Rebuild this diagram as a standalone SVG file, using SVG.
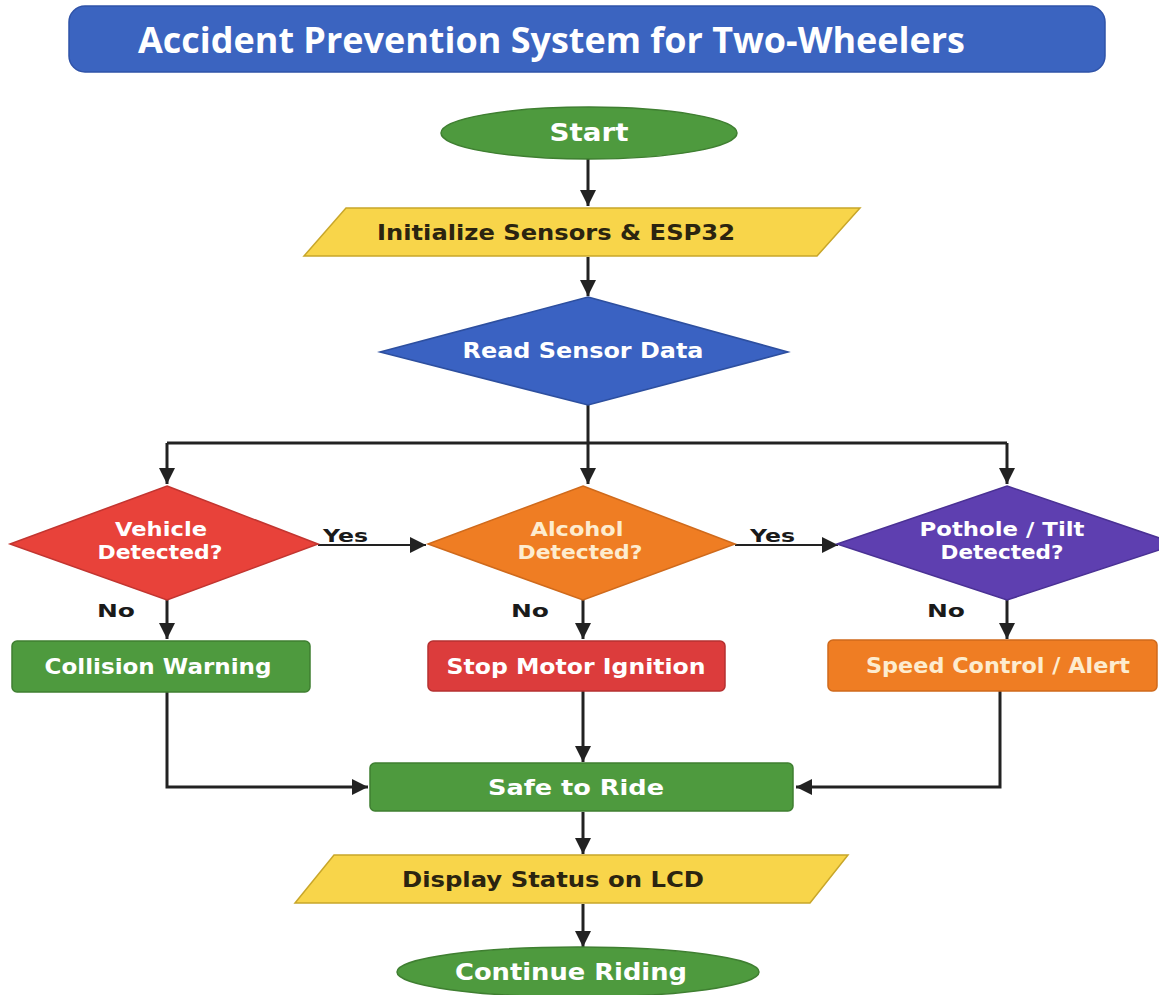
<svg xmlns="http://www.w3.org/2000/svg" width="1159" height="995" viewBox="0 0 1159 995">
<style>
.t{font-family:"DejaVu Sans","Verdana",sans-serif;font-weight:700;text-anchor:middle}
.w{fill:#ffffff}
.d{fill:#2b2410}
.cr{fill:#fdeccf}
.lbl{font-family:"DejaVu Sans","Verdana",sans-serif;font-weight:700;fill:#1a1a1a;font-size:17px}
.c{fill:none;stroke:#222;stroke-width:3}
.c2{fill:none;stroke:#222;stroke-width:2}
</style>
<defs>
<marker id="ah" markerUnits="userSpaceOnUse" markerWidth="18" markerHeight="16" refX="16" refY="8" orient="auto">
<path d="M0,0 L16,8 L0,16 Z" fill="#222"/>
</marker>
</defs>
<rect width="1159" height="995" fill="#ffffff"/>

<g id="title">
<rect x="69" y="6" width="1036" height="66" rx="16" fill="#3b64c0" stroke="#2f53a8" stroke-width="1.5"/>
<text x="138" y="53" font-family="'Open Sans','Liberation Sans',sans-serif" font-weight="700" font-size="36" fill="#ffffff" textLength="827" lengthAdjust="spacingAndGlyphs">Accident Prevention System for Two-Wheelers</text>
</g>

<g id="connectors">
<path class="c" d="M588,159 V206" marker-end="url(#ah)"/>
<path class="c" d="M588,257 V296" marker-end="url(#ah)"/>
<path class="c" d="M588,405 V484" marker-end="url(#ah)"/>
<path class="c" d="M167,443 H1007"/>
<path class="c" d="M167,443 V484" marker-end="url(#ah)"/>
<path class="c" d="M1007,443 V484" marker-end="url(#ah)"/>
<path class="c2" d="M318,545 H426" marker-end="url(#ah)"/>
<path class="c2" d="M735,545 H838" marker-end="url(#ah)"/>
<path class="c" d="M167,600 V639" marker-end="url(#ah)"/>
<path class="c" d="M583,600 V639" marker-end="url(#ah)"/>
<path class="c" d="M1007,600 V639" marker-end="url(#ah)"/>
<path class="c" d="M167,692 V787 H368" marker-end="url(#ah)"/>
<path class="c" d="M583,691 V762" marker-end="url(#ah)"/>
<path class="c" d="M1000,691 V787 H796" marker-end="url(#ah)"/>
<path class="c" d="M583,812 V854" marker-end="url(#ah)"/>
<path class="c" d="M583,904 V947" marker-end="url(#ah)"/>
<text class="lbl" x="323" y="542" textLength="45" lengthAdjust="spacingAndGlyphs">Yes</text>
<text class="lbl" x="750" y="542" textLength="45" lengthAdjust="spacingAndGlyphs">Yes</text>
<text class="lbl" x="97" y="617" textLength="38" lengthAdjust="spacingAndGlyphs">No</text>
<text class="lbl" x="511" y="617" textLength="38" lengthAdjust="spacingAndGlyphs">No</text>
<text class="lbl" x="927" y="617" textLength="38" lengthAdjust="spacingAndGlyphs">No</text>
</g>

<g id="start">
<ellipse cx="589" cy="133" rx="148" ry="26" fill="#4e9a3e" stroke="#3f7f31" stroke-width="1.5"/>
<text class="t w" x="589" y="141" font-size="24" textLength="79" lengthAdjust="spacingAndGlyphs">Start</text>
</g>

<g id="init">
<path d="M346,208 H860 L817,256 H304 Z" fill="#f8d54a" stroke="#c8a62a" stroke-width="1.5"/>
<text class="t d" x="556" y="240" font-size="22" textLength="358" lengthAdjust="spacingAndGlyphs">Initialize Sensors &amp; ESP32</text>
</g>

<g id="read">
<path d="M588,297 L788,352 L588,405 L380,352 Z" fill="#3a62c2" stroke="#2d4f9f" stroke-width="1.5"/>
<text class="t w" x="583" y="358" font-size="22" textLength="241" lengthAdjust="spacingAndGlyphs">Read Sensor Data</text>
</g>

<g id="vehicle">
<path d="M167,486 L318,544 L167,600 L10,544 Z" fill="#e8423a" stroke="#c23530" stroke-width="1.5"/>
<text class="t w" x="161" y="536" font-size="20" textLength="92" lengthAdjust="spacingAndGlyphs">Vehicle</text>
<text class="t w" x="160" y="559" font-size="20" textLength="125" lengthAdjust="spacingAndGlyphs">Detected?</text>
</g>

<g id="alcohol">
<path d="M583,486 L735,544 L583,600 L428,544 Z" fill="#ef7d23" stroke="#cf6a1c" stroke-width="1.5"/>
<text class="t cr" x="577" y="536" font-size="20" textLength="93" lengthAdjust="spacingAndGlyphs">Alcohol</text>
<text class="t cr" x="580" y="559" font-size="20" textLength="125" lengthAdjust="spacingAndGlyphs">Detected?</text>
</g>

<g id="pothole">
<path d="M1007,486 L1177,544 L1007,600 L837,544 Z" fill="#5e3fb0" stroke="#4a3194" stroke-width="1.5"/>
<text class="t w" x="1002" y="536" font-size="20" textLength="165" lengthAdjust="spacingAndGlyphs">Pothole / Tilt</text>
<text class="t w" x="1002" y="559" font-size="20" textLength="123" lengthAdjust="spacingAndGlyphs">Detected?</text>
</g>

<g id="collision">
<rect x="12" y="641" width="298" height="51" rx="5" fill="#4e9a3e" stroke="#3f7f31" stroke-width="1.5"/>
<text class="t w" x="158" y="674" font-size="21" textLength="227" lengthAdjust="spacingAndGlyphs">Collision Warning</text>
</g>

<g id="stopmotor">
<rect x="428" y="641" width="297" height="50" rx="5" fill="#dc3c3c" stroke="#b53030" stroke-width="1.5"/>
<text class="t w" x="576" y="674" font-size="21" textLength="259" lengthAdjust="spacingAndGlyphs">Stop Motor Ignition</text>
</g>

<g id="speed">
<rect x="828" y="640" width="329" height="51" rx="5" fill="#ef7d23" stroke="#cf6a1c" stroke-width="1.5"/>
<text class="t cr" x="998" y="673" font-size="21" textLength="264" lengthAdjust="spacingAndGlyphs">Speed Control / Alert</text>
</g>

<g id="safe">
<rect x="370" y="763" width="423" height="48" rx="5" fill="#4e9a3e" stroke="#3f7f31" stroke-width="1.5"/>
<text class="t w" x="576" y="795" font-size="22" textLength="176" lengthAdjust="spacingAndGlyphs">Safe to Ride</text>
</g>

<g id="display">
<path d="M334,855 H848 L810,903 H295 Z" fill="#f8d54a" stroke="#c8a62a" stroke-width="1.5"/>
<text class="t d" x="553" y="887" font-size="22" textLength="302" lengthAdjust="spacingAndGlyphs">Display Status on LCD</text>
</g>

<g id="continue">
<ellipse cx="578" cy="972" rx="181" ry="25" fill="#4e9a3e" stroke="#3f7f31" stroke-width="1.5"/>
<text class="t w" x="571" y="980" font-size="23" textLength="232" lengthAdjust="spacingAndGlyphs">Continue Riding</text>
</g>
</svg>
